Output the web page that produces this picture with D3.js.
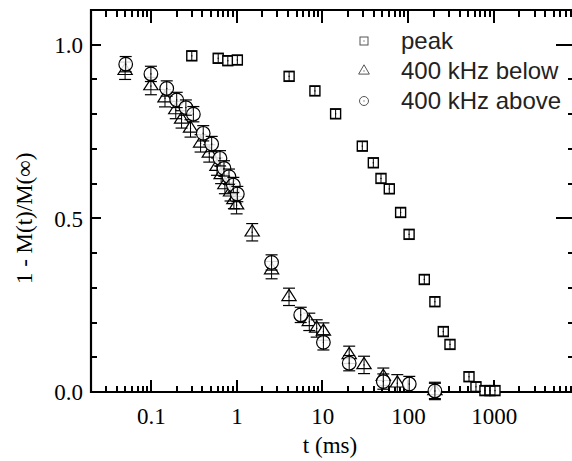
<!DOCTYPE html>
<html><head><meta charset="utf-8">
<script src="https://cdn.jsdelivr.net/npm/d3@7"></script>
<style>html,body{margin:0;padding:0;background:#fff}svg{display:block}</style>
</head><body><svg id="c" width="572" height="461"></svg>
<script>
// ---- data ----
const peakT = [0.30, 0.61, 0.79, 1.02, 4.1, 8.2, 14.3, 29.3, 39.4, 48.4, 60.5, 82, 103, 155, 206, 258, 309, 515, 621, 790, 905, 1035];
const peakV = [0.968, 0.961, 0.954, 0.956, 0.909, 0.867, 0.801, 0.708, 0.660, 0.615, 0.585, 0.517, 0.454, 0.324, 0.260, 0.174, 0.137, 0.044, 0.015, 0.004, 0.004, 0.004];
const belowT = [0.05, 0.1, 0.146, 0.195, 0.228, 0.29, 0.38, 0.48, 0.59, 0.66, 0.73, 0.85, 0.93, 1.0, 1.52, 2.56, 4.09, 7.05, 8.6, 10.3, 20.6, 30.7, 51.5, 75, 206];
const belowV = [0.925, 0.881, 0.846, 0.812, 0.785, 0.759, 0.716, 0.687, 0.649, 0.625, 0.596, 0.575, 0.553, 0.538, 0.460, 0.351, 0.274, 0.202, 0.183, 0.174, 0.107, 0.078, 0.044, 0.025, 0.003];
const aboveT = [0.0508, 0.1, 0.153, 0.2, 0.256, 0.313, 0.408, 0.512, 0.64, 0.713, 0.815, 0.916, 1.02, 2.56, 5.6, 10.3, 20.6, 51.5, 103.5, 206];
const aboveV = [0.944, 0.916, 0.874, 0.841, 0.819, 0.800, 0.745, 0.714, 0.673, 0.644, 0.620, 0.596, 0.570, 0.373, 0.222, 0.143, 0.083, 0.030, 0.023, 0.003];
const peakErr = 0.013, belowErr = 0.025, aboveErr = 0.022;
const xTickVals = [0.1, 1, 10, 100, 1000];
const xTickLabels = ["0.1", "1", "10", "100", "1000"];
const yTickVals = [0.0, 0.5, 1.0];
const yTickLabels = ["0.0", "0.5", "1.0"];
const legendLabels = ["peak", "400 kHz below", "400 kHz above"];

// ---- layout ----
const L = 91, R = 574, T = 10, B = 392;
const svg = d3.select("#c");
const x = d3.scaleLog().domain([0.02, 8650]).range([L, R]);
const y = d3.scaleLinear().domain([0, 1.1]).range([B, T]);
const ink = "#000";
const serif = "'Liberation Serif','Times New Roman',serif";

const minorX = [];
for (let e = -2; e <= 3; e++) for (let m = 2; m <= 9; m++) {
  const v = m * Math.pow(10, e);
  if (v >= 0.02 && v <= 8650) minorX.push(v);
}
const minorY = [0.1, 0.2, 0.3, 0.4, 0.6, 0.7, 0.8, 0.9];

// frame
svg.append("path").attr("d", `M${L},${T}H${R}V${B}H${L}Z`).attr("fill", "none").attr("stroke", ink).attr("stroke-width", 2.2);

// tick marks (inward) from scales
const tickPath = d3.path();
xTickVals.forEach(d => { const px = Math.round(x(d)); tickPath.moveTo(px, B); tickPath.lineTo(px, B - 12); tickPath.moveTo(px, T); tickPath.lineTo(px, T + 13); });
minorX.forEach(d => { const px = Math.round(x(d)); tickPath.moveTo(px, B); tickPath.lineTo(px, B - 6); tickPath.moveTo(px, T); tickPath.lineTo(px, T + 7); });
yTickVals.forEach(d => { const py = Math.round(y(d)); tickPath.moveTo(L, py); tickPath.lineTo(L + 10, py); tickPath.moveTo(R, py); tickPath.lineTo(R - 18, py); });
minorY.forEach(d => { const py = Math.round(y(d)); tickPath.moveTo(L, py); tickPath.lineTo(L + 6, py); tickPath.moveTo(R, py); tickPath.lineTo(R - 6, py); });
svg.append("path").attr("d", tickPath.toString()).attr("fill", "none").attr("stroke", ink).attr("stroke-width", 2);

// tick labels via axes
const xAxis = d3.axisBottom(x).tickValues(xTickVals).tickSize(0).tickFormat((d, i) => xTickLabels[i]);
const yAxis = d3.axisLeft(y).tickValues(yTickVals).tickSize(0).tickFormat((d, i) => yTickLabels[i]);
const gx = svg.append("g").attr("transform", `translate(0,${B})`).call(xAxis);
gx.select(".domain").remove();
gx.selectAll(".tick line").remove();
gx.selectAll(".tick text").attr("y", 32).attr("dy", 0).attr("fill", ink).attr("font-family", serif).attr("font-size", 23);
const gy = svg.append("g").attr("transform", `translate(${L},0)`).call(yAxis);
gy.select(".domain").remove();
gy.selectAll(".tick line").remove();
gy.selectAll(".tick text").attr("x", -8).attr("dy", "0.34em").attr("fill", ink).attr("font-family", serif).attr("font-size", 23);

// axis titles
svg.append("text").attr("x", 330).attr("y", 453).attr("text-anchor", "middle")
  .attr("font-family", serif).attr("font-size", 23).attr("fill", ink).text("t (ms)");
svg.append("text").attr("transform", `translate(32,${y(0.5)}) rotate(-90)`).attr("text-anchor", "middle")
  .attr("font-family", serif).attr("font-size", 23).attr("fill", ink).text("1 - M(t)/M(\u221E)");

// markers
const plot = svg.append("g");
function errbar(sel, xs, ys, err, w) {
  xs.forEach((t, i) => {
    const cx = x(t), v = ys[i];
    const y1 = y(v + err), y2 = y(Math.max(v - err, -0.03));
    sel.append("line").attr("x1", cx).attr("x2", cx).attr("y1", y1).attr("y2", y2).attr("stroke", ink).attr("stroke-width", 1);
    [y1, y2].forEach(yy => sel.append("line").attr("x1", cx - w / 2).attr("x2", cx + w / 2).attr("y1", yy).attr("y2", yy).attr("stroke", ink).attr("stroke-width", 1.2));
  });
}
function dots(sel, xs, ys) {
  sel.selectAll(null).data(xs).enter().append("rect")
    .attr("x", d => x(d) - 0.6).attr("y", (d, i) => y(ys[i]) - 0.6).attr("width", 1.2).attr("height", 1.2).attr("fill", ink);
}
const gp = plot.append("g");
gp.selectAll(null).data(peakT).enter().append("rect")
  .attr("x", d => x(d) - 5).attr("y", (d, i) => y(peakV[i]) - 5).attr("width", 10).attr("height", 10)
  .attr("fill", "#fff").attr("stroke", ink).attr("stroke-width", 1.4);
errbar(gp, peakT, peakV, peakErr, 10);
dots(gp, peakT, peakV);
const gb = plot.append("g");
const tri = d3.symbol().type(d3.symbolTriangle).size(80);
gb.selectAll(null).data(belowT).enter().append("path").attr("d", tri)
  .attr("transform", (d, i) => `translate(${x(d)},${y(belowV[i])}) scale(1.05,0.95)`)
  .attr("fill", "#fff").attr("stroke", ink).attr("stroke-width", 1.2);
errbar(gb, belowT, belowV, belowErr, 12);
dots(gb, belowT, belowV);
const ga = plot.append("g");
ga.selectAll(null).data(aboveT).enter().append("circle")
  .attr("cx", d => x(d)).attr("cy", (d, i) => y(aboveV[i])).attr("r", 6.8)
  .attr("fill", "#fff").attr("fill-opacity", 0.85).attr("stroke", ink).attr("stroke-width", 1.2);
errbar(ga, aboveT, aboveV, aboveErr, 12);
dots(ga, aboveT, aboveV);

// legend
const lg = svg.append("g");
const lgx = 364, lgy = [41, 71, 101];
lg.append("rect").attr("x", lgx - 4).attr("y", lgy[0] - 4).attr("width", 8).attr("height", 8).attr("fill", "none").attr("stroke", "#555").attr("stroke-width", 1);
lg.append("path").attr("d", d3.symbol().type(d3.symbolTriangle).size(50)).attr("transform", `translate(${lgx},${lgy[1]})`).attr("fill", "none").attr("stroke", "#555").attr("stroke-width", 1);
lg.append("circle").attr("cx", lgx).attr("cy", lgy[2]).attr("r", 4.5).attr("fill", "none").attr("stroke", "#555").attr("stroke-width", 1);
[0, 1, 2].forEach(i => lg.append("rect").attr("x", lgx - 0.5).attr("y", lgy[i] - 0.5).attr("width", 1).attr("height", 1).attr("fill", "#333"));
lg.selectAll(null).data(legendLabels).enter().append("text")
  .attr("x", 401).attr("y", (d, i) => lgy[i] + 8).attr("font-family", "'Liberation Sans',Arial,sans-serif")
  .attr("font-size", 24).attr("fill", "#222").text(d => d);
</script></body></html>
